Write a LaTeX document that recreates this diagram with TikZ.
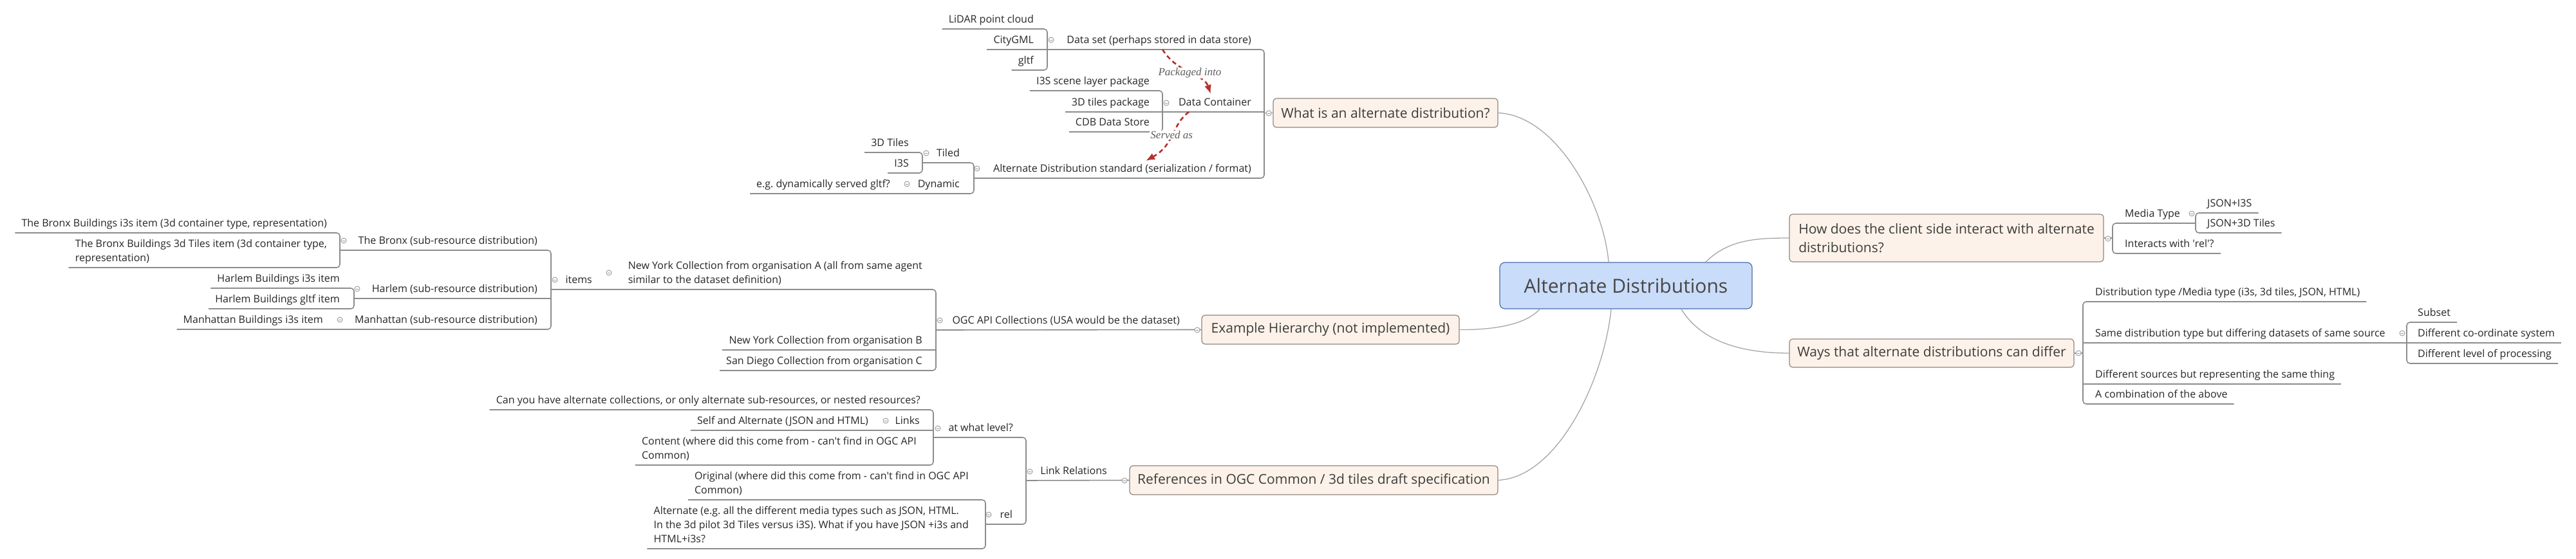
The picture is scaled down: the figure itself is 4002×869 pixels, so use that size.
\documentclass[tikz,border=0pt]{standalone}
\usepackage{fontspec}
\setmainfont{Open Sans}
\newfontfamily\relfont{Liberation Serif}
\usetikzlibrary{calc, arrows.meta}

\definecolor{linegray}{HTML}{8C8C8C}
\definecolor{txt}{HTML}{262626}
\definecolor{peach}{HTML}{FDF2E9}
\definecolor{peachborder}{HTML}{8F8681}
\definecolor{rootfill}{HTML}{C9DCF9}
\definecolor{rootborder}{HTML}{4A6DA7}
\definecolor{relred}{HTML}{B3302B}
\definecolor{relgray}{HTML}{5E5E5E}

\tikzset{
  sub/.style={font=\fontsize{16}{22}\selectfont, text=txt, inner xsep=10pt, inner ysep=9pt, text depth=0pt, align=left},
  lsub/.style={sub, anchor=south east},
  rsub/.style={sub, anchor=south west},
  main/.style={draw=peachborder, fill=peach, rounded corners=5pt, line width=1.2pt, font=\fontsize{21}{29}\selectfont, text=txt!90, align=left, inner sep=0pt},
  central/.style={draw=rootborder, fill=rootfill, rounded corners=8pt, line width=1.2pt, font=\fontsize{30}{36}\selectfont, text=txt!85, minimum width=392pt, minimum height=72pt},
  ln/.style={draw=linegray, line width=1.6pt},
  br/.style={ln, rounded corners=5pt},
  branch/.style={draw=gray!70, line width=1.3pt},
  fold/.style={draw=gray!80, line width=0.9pt},
  relarrow/.style={draw=relred, line width=2.6pt, dash pattern=on 7pt off 5pt, -{Latex[length=14pt,width=11pt]}},
  rellabel/.style={font=\relfont\itshape\fontsize{17}{19}\selectfont, text=relgray, fill=white, inner sep=1pt}
}

\begin{document}
\frenchspacing
\begin{tikzpicture}[x=1pt, y=-1pt, >=latex]
  \path[fill=white] (0,0) rectangle (4002,869);

  % bracket columns
  \coordinate (bDS) at (1627,0);
  \coordinate (bCont) at (1806,0);
  \coordinate (bTiled) at (1433,0);
  \coordinate (bAlt) at (1513,0);
  \coordinate (bWhat) at (1964,0);
  \coordinate (bBronx) at (528,0);
  \coordinate (bHarlem) at (550,0);
  \coordinate (bItems) at (856,0);
  \coordinate (bOGC) at (1454,0);
  \coordinate (bAtLevel) at (1450,0);
  \coordinate (bRel) at (1531,0);
  \coordinate (bLinkRel) at (1594,0);
  \coordinate (bHow) at (3282,0);
  \coordinate (bMedia) at (3411,0);
  \coordinate (bWays) at (3236,0);
  \coordinate (bSame) at (3739,0);

  % central topic and main topics
  \node[central] (root) at (2526,444) {Alternate Distributions};
  \node[main, minimum width=349pt, minimum height=45pt] (whatis) at (2152.5,175.5) {What is an alternate distribution?};
  \node[main, minimum width=400pt, minimum height=45pt] (example) at (2067,512.5) {Example Hierarchy (not implemented)};
  \node[main, minimum width=572pt, minimum height=45pt] (refs) at (2041,746.5) {References in OGC Common / 3d tiles draft specification};
  \node[main, minimum width=488pt, minimum height=74pt] (howdoes) at (3024,370) {How does the client side interact with alternate\\distributions?};
  \node[main, minimum width=442pt, minimum height=44pt] (ways) at (3001,549) {Ways that alternate distributions can differ};

  \draw[branch] (whatis.east) .. controls (2420,180) and (2492,320) .. ($(root.north)+(-27,0)$);
  \draw[branch] (example.east) .. controls (2335,513) and (2375,500) .. ($(root.south)+(-134,0)$);
  \draw[branch] (refs.east) .. controls (2420,742) and (2492,590) .. ($(root.south)+(-23,0)$);
  \draw[branch] ($(root.north)+(124,0)$) .. controls (2685,372) and (2730,370) .. (howdoes.west);
  \draw[branch] ($(root.south)+(86,0)$) .. controls (2645,535) and (2715,549) .. (ways.west);

  % what is an alternate distribution
  \node[lsub] (lidar) at (1616,45) {LiDAR point cloud};
  \node[lsub] (citygml) at (1616,77) {CityGML};
  \node[lsub] (gltf) at (1616,109) {gltf};
  \node[lsub] (dataset) at (1954,77) {Data set (perhaps stored in data store)};
  \node[lsub] (i3spkg) at (1796,141) {I3S scene layer package};
  \node[lsub] (tilespkg) at (1796,174) {3D tiles package};
  \node[lsub] (cdb) at (1796,205) {CDB Data Store};
  \node[lsub] (container) at (1954,174) {Data Container};
  \node[lsub] (tiles3d) at (1422,237) {3D Tiles};
  \node[lsub] (i3s) at (1422,269) {I3S};
  \node[lsub] (tiled) at (1501,253) {Tiled};
  \node[lsub] (egdyn) at (1393,301) {e.g. dynamically served gltf?};
  \node[lsub] (dynamic) at (1501,301) {Dynamic};
  \node[lsub] (altstd) at (1954,277) {Alternate Distribution standard (serialization / format)};

  \draw[br] (lidar.south west) -- (lidar.south -| bDS) -- (gltf.south -| bDS) -- (gltf.south west);
  \draw[ln] (citygml.south west) -- (citygml.south -| bDS);
  \draw[br] (i3spkg.south west) -- (i3spkg.south -| bCont) -- (cdb.south -| bCont) -- (cdb.south west);
  \draw[ln] (tilespkg.south west) -- (tilespkg.south -| bCont);
  \draw[br] (tiles3d.south west) -- (tiles3d.south -| bTiled) -- (i3s.south -| bTiled) -- (i3s.south west);
  \draw[br] (tiled.south -| bTiled) -- (tiled.south -| bAlt) -- (dynamic.south -| bAlt) -- (egdyn.south west);
  \draw[br] (dataset.south -| bDS) -- (dataset.south -| bWhat) -- (altstd.south -| bWhat) -- (altstd.south -| bAlt);
  \draw[ln] (container.south -| bCont) -- (container.south -| bWhat);
  \draw[ln] (whatis.west) -- (whatis.west -| bWhat);

  % example hierarchy
  \node[lsub] (bronxi3s) at (518,362) {The Bronx Buildings i3s item (3d container type, representation)};
  \node[lsub] (bronx3dt) at (518,416) {The Bronx Buildings 3d Tiles item (3d container type,\\representation)};
  \node[lsub] (bronx) at (845,389) {The Bronx (sub-resource distribution)};
  \node[lsub] (harlemi3s) at (538,448) {Harlem Buildings i3s item};
  \node[lsub] (harlemgltf) at (538,480) {Harlem Buildings gltf item};
  \node[lsub] (harlem) at (845,464) {Harlem (sub-resource distribution)};
  \node[lsub] (manhi3s) at (512,512) {Manhattan Buildings i3s item};
  \node[lsub] (manhattan) at (845,512) {Manhattan (sub-resource distribution)};
  \node[lsub] (items) at (930,450) {items};
  \node[lsub] (nya) at (1443,450) {New York Collection from organisation A (all from same agent\\similar to the dataset definition)};
  \node[lsub] (nyb) at (1443,544) {New York Collection from organisation B};
  \node[lsub] (sdc) at (1443,576) {San Diego Collection from organisation C};
  \node[lsub] (ogc) at (1843,513) {OGC API Collections (USA would be the dataset)};

  \draw[br] (bronxi3s.south west) -- (bronxi3s.south -| bBronx) -- (bronx3dt.south -| bBronx) -- (bronx3dt.south west);
  \draw[br] (harlemi3s.south west) -- (harlemi3s.south -| bHarlem) -- (harlemgltf.south -| bHarlem) -- (harlemgltf.south west);
  \draw[br] (bronx.south -| bBronx) -- (bronx.south -| bItems) -- (manhattan.south -| bItems) -- (manhi3s.south west);
  \draw[ln] (harlem.south -| bHarlem) -- (harlem.south -| bItems);
  \draw[br] (items.south -| bItems) -- (nya.south -| bOGC) -- (sdc.south -| bOGC) -- (sdc.south west);
  \draw[ln] (nyb.south west) -- (nyb.south -| bOGC);
  \draw[ln] (ogc.south -| bOGC) -- (example.west);

  % references
  \node[lsub] (canyou) at (1440,637) {Can you have alternate collections, or only alternate sub-resources, or nested resources?};
  \node[lsub] (selfalt) at (1359,669) {Self and Alternate (JSON and HTML)};
  \node[lsub] (links) at (1439,669) {Links};
  \node[lsub] (content) at (1434,723) {Content (where did this come from - can\textquotesingle t find in OGC API\\Common)};
  \node[lsub] (atlevel) at (1584,680) {at what level?};
  \node[lsub] (original) at (1515,777) {Original (where did this come from - can\textquotesingle t find in OGC API\\Common)};
  \node[lsub] (alternate) at (1515,853) {Alternate (e.g. all the different media types such as JSON, HTML.\\In the 3d pilot 3d Tiles versus i3S). What if you have JSON +i3s and\\HTML+i3s?};
  \node[lsub] (rel) at (1583,815) {rel};
  \node[lsub] (linkrel) at (1730,747) {Link Relations};

  \draw[br] (canyou.south west) -- (canyou.south -| bAtLevel) -- (content.south -| bAtLevel) -- (content.south west);
  \draw[ln] (selfalt.south west) -- (links.south -| bAtLevel);
  \draw[br] (original.south west) -- (original.south -| bRel) -- (alternate.south -| bRel) -- (alternate.south west);
  \draw[br] (atlevel.south -| bAtLevel) -- (atlevel.south -| bLinkRel) -- (rel.south -| bLinkRel) -- (rel.south -| bRel);
  \draw[ln] (linkrel.south -| bLinkRel) -- (refs.west);

  % client side
  \node[rsub] (mediatype) at (3291,347) {Media Type};
  \node[rsub] (jsoni3s) at (3419,331) {JSON+I3S};
  \node[rsub] (json3dt) at (3419,362) {JSON+3D Tiles};
  \node[rsub] (interacts) at (3291,394) {Interacts with \textquotesingle rel\textquotesingle?};

  \draw[br] (jsoni3s.south east) -- (jsoni3s.south -| bMedia) -- (json3dt.south -| bMedia) -- (json3dt.south east);
  \draw[br] (mediatype.south -| bMedia) -- (mediatype.south -| bHow) -- (interacts.south -| bHow) -- (interacts.south east);
  \draw[ln] (howdoes.east) -- (howdoes.east -| bHow);

  % ways to differ
  \node[rsub] (disttype) at (3245,469) {Distribution type /Media type (i3s, 3d tiles, JSON, HTML)};
  \node[rsub] (samedist) at (3245,533) {Same distribution type but differing datasets of same source};
  \node[rsub] (subset) at (3746,501) {Subset};
  \node[rsub] (diffcrs) at (3746,533) {Different co-ordinate system};
  \node[rsub] (difflevel) at (3746,565) {Different level of processing};
  \node[rsub] (diffsrc) at (3245,597) {Different sources but representing the same thing};
  \node[rsub] (combo) at (3245,628) {A combination of the above};

  \draw[br] (disttype.south east) -- (disttype.south -| bWays) -- (combo.south -| bWays) -- (combo.south east);
  \draw[ln] (samedist.south -| bWays) -- (samedist.south -| bSame);
  \draw[ln] (diffsrc.south -| bWays) -- (diffsrc.south east);
  \draw[br] (subset.south east) -- (subset.south -| bSame) -- (difflevel.south -| bSame) -- (difflevel.south east);
  \draw[ln] (diffcrs.south -| bSame) -- (diffcrs.south east);
  \draw[ln] (ways.east) -- (ways.east -| bWays);

  % fold marks
  \foreach \fx/\fy in {1633/62, 1812/160, 1518/262, 1439/238, 1409/286, 1971/176,
                       534/374, 555/449, 528/497, 862/435, 946/424, 1460/498, 1860/513,
                       1376/654, 1457/666, 1536/800, 1600/733, 1747/747,
                       3275/371, 3405/332, 3229/549, 3732/518} {
    \draw[fold, fill=white] (\fx,\fy) circle (4pt);
    \draw[fold] (\fx-2,\fy) -- (\fx+2,\fy);
  }

  % relationships
  \draw[relarrow] ($(dataset.south east)+(-148,0)$) .. controls +(24,38) and +(-11,-32) .. ($(container.south east)+(-73,-28)$)
    node[rellabel, pos=0.5] {Packaged into};
  \draw[relarrow] ($(container.south east)+(-107,0)$) .. controls +(-27,20) and +(45,-25) .. ($(altstd.south east)+(-174,-27)$)
    node[rellabel, pos=0.5] {Served as};
\end{tikzpicture}
\end{document}
